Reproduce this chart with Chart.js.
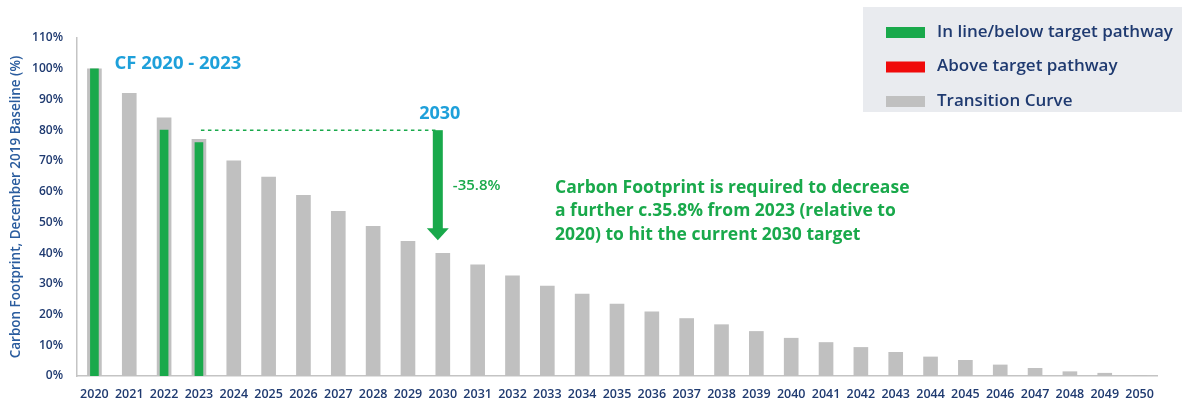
<!DOCTYPE html>
<html>
<head>
<meta charset="utf-8">
<script src="https://cdn.jsdelivr.net/npm/chart.js@4"></script>
<style>
  html, body { margin: 0; padding: 0; background: #fff; }
  #wrap { width: 1182px; height: 401px; position: relative; }
</style>
</head>
<body>
<div id="wrap"><canvas id="cf"></canvas></div>
<script>
// years on the x axis
var years = [];
for (var y = 2020; y <= 2050; y++) years.push(String(y));

// transition curve (% of Dec 2019 baseline)
var transitionCurve = [100, 92, 84, 77, 70, 64.7, 58.8, 53.6, 48.7, 43.8, 39.9,
    36.2, 32.6, 29.3, 26.7, 23.4, 20.9, 18.7, 16.7, 14.5, 12.3,
    10.9, 9.3, 7.7, 6.2, 5.1, 3.6, 2.5, 1.4, 0.9, 0];

// actual carbon footprint, in line / below pathway
var inLineBelow = [100, null, 80, 76];
// actual carbon footprint above pathway (none so far)
var aboveTarget = [];

var reduction = 35.8;   // further decrease needed from 2023 to 2030
var startYearIdx = 3;   // 2023
var targetYearIdx = 10; // 2030

var GREEN = '#19a94b';
var RED = '#f00a0a';
var GREY = '#c0c0c0';
var BLUE = '#1ea0da';
var NAVY = '#1f3a70';
var FONT = '"Open Sans", sans-serif';

var annotations = {
    id: 'annotations',
    afterDatasetsDraw: function (chart) {
        var ctx = chart.ctx;
        var xs = chart.scales.x, ys = chart.scales.y;
        var level = inLineBelow[2];
        var yLevel = ys.getPixelForValue(level);
        var xStart = xs.getPixelForValue(startYearIdx) + 2;
        var xTarget = xs.getPixelForValue(targetYearIdx) - 5;
        var yTip = ys.getPixelForValue(level - reduction);

        ctx.save();
        // dashed guide from 2023 across to 2030
        ctx.strokeStyle = GREEN;
        ctx.lineWidth = 1.5;
        ctx.setLineDash([3.5, 3.5]);
        ctx.beginPath();
        ctx.moveTo(xStart, yLevel);
        ctx.lineTo(xTarget, yLevel);
        ctx.stroke();
        ctx.setLineDash([]);

        // arrow down
        ctx.fillStyle = GREEN;
        ctx.fillRect(xTarget - 5, yLevel, 10, yTip - yLevel - 11);
        ctx.beginPath();
        ctx.moveTo(xTarget - 11, yTip - 12);
        ctx.lineTo(xTarget + 11, yTip - 12);
        ctx.lineTo(xTarget, yTip);
        ctx.closePath();
        ctx.fill();

        ctx.textBaseline = 'middle';
        // headings
        ctx.fillStyle = BLUE;
        ctx.font = 'bold 18.5px ' + FONT;
        ctx.textAlign = 'left';
        ctx.fillText('CF 2020 - 2023', xs.getPixelForValue(0) + 20, 64);
        ctx.font = 'bold 18px ' + FONT;
        ctx.textAlign = 'center';
        ctx.fillText('2030', xTarget + 2, yLevel - 16);

        ctx.fillStyle = GREEN;
        ctx.font = '600 15px ' + FONT;
        ctx.textAlign = 'left';
        ctx.fillText('-' + reduction + '%', xTarget + 15, 186);

        ctx.font = 'bold 17.5px ' + FONT;
        var lines = ['Carbon Footprint is required to decrease',
            'a further c.' + reduction + '% from 2023 (relative to',
            '2020) to hit the current 2030 target'];
        lines.forEach(function (t, i) {
            ctx.fillText(t, 555, 188 + i * 23.5);
        });

        // legend panel
        ctx.fillStyle = '#e9ebef';
        ctx.fillRect(863, 7, 319, 105);
        var items = [[GREEN, 'In line/below target pathway'],
            [RED, 'Above target pathway'],
            [GREY, 'Transition Curve']];
        ctx.font = '600 17px ' + FONT;
        items.forEach(function (it, i) {
            var cy = 32 + i * 34.5;
            ctx.fillStyle = it[0];
            ctx.fillRect(886, cy - 5, 39, 11);
            ctx.fillStyle = NAVY;
            ctx.fillText(it[1], 937, cy);
        });
        ctx.restore();
    }
};

var ctx = document.getElementById('cf').getContext('2d');
var chart = new Chart(ctx, {
    type: 'bar',
    data: {
        labels: years,
        datasets: [{
            label: 'In line/below target pathway',
            data: inLineBelow,
            backgroundColor: GREEN,
            barThickness: 8,
            grouped: false,
            order: 0
        }, {
            label: 'Above target pathway',
            data: aboveTarget,
            backgroundColor: RED,
            barThickness: 8,
            grouped: false,
            order: 1
        }, {
            label: 'Transition Curve',
            data: transitionCurve,
            backgroundColor: GREY,
            barThickness: 14,
            grouped: false,
            order: 2
        }]
    },
    options: {
        responsive: true,
        maintainAspectRatio: false,
        animation: false,
        layout: { padding: { top: 38, right: 25, left: 0, bottom: 0 } },
        plugins: {
            legend: { display: false },
            tooltip: { enabled: false }
        },
        scales: {
            x: {
                grid: { display: false },
                border: { display: true, color: '#c4c4c4', width: 1.5 },
                ticks: {
                    color: NAVY,
                    font: { family: FONT, size: 12.5, weight: '600' },
                    maxRotation: 0,
                    autoSkip: false,
                    padding: 3
                },
                afterFit: function (s) { s.height = 25; }
            },
            y: {
                min: 0,
                max: 110,
                grid: { display: false },
                border: { display: true, color: '#c4c4c4', width: 1.5 },
                ticks: {
                    stepSize: 10,
                    color: NAVY,
                    font: { family: FONT, size: 12, weight: '600' },
                    padding: 6,
                    callback: function (v) { return v + '%'; }
                },
                title: {
                    display: true,
                    text: 'Carbon Footprint, December 2019 Baseline (%)',
                    color: '#2a5c9e',
                    font: { family: FONT, size: 13.5, weight: '600' },
                    padding: { top: 8, bottom: 0 }
                },
                afterFit: function (s) { s.width = 77; }
            }
        }
    },
    plugins: [annotations]
});
</script>
</body>
</html>
